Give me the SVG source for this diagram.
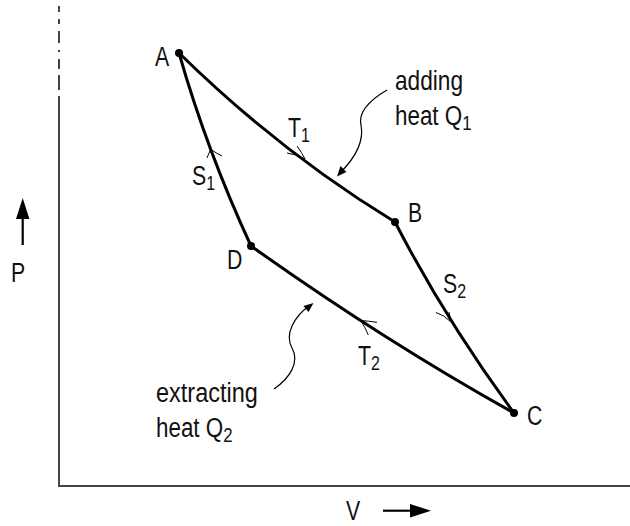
<svg xmlns="http://www.w3.org/2000/svg" width="630" height="526" viewBox="0 0 630 526">
<style>
.t{font-family:"Liberation Sans",Arial,sans-serif;font-size:28px;fill:#111}
.s{font-size:21px}
.axis{stroke:#444;stroke-width:2;fill:none}
.curve{stroke:#000;stroke-width:3;fill:none}
.barb{stroke:#000;stroke-width:1;fill:none}
.lead{stroke:#000;stroke-width:1.2;fill:none}
</style>
<rect width="630" height="526" fill="#fff"/>
<g id="axes">
<path class="axis" d="M59,6V12M59,19V24M59,31V43M59,50V52M59,59V69M59,75V90M59,96V486H630"/>
<path d="M22.7,245V215" stroke="#000" stroke-width="2.2"/>
<polygon points="22.7,198 16,219 29.4,219" fill="#000"/>
<text class="t" transform="translate(11,282) scale(0.76,1)">P</text>
<path d="M383,510.7H412" stroke="#000" stroke-width="2.2"/>
<polygon points="431,510.7 410,504 410,517.4" fill="#000"/>
<text class="t" transform="translate(346,520) scale(0.76,1)">V</text>
</g>
<g id="connectors">
<path id="T1" class="curve" d="M179,53 Q280,152 395,222"/>
<path id="S2" class="curve" d="M395,222 Q445,319 514,413"/>
<path id="T2" class="curve" d="M514,413 Q383,340 251,246"/>
<path id="S1" class="curve" d="M251,246 Q207,151 179,53"/>
<path class="barb" d="M297,146 Q302,153 305,159 Q296,154 287,153"/>
<path class="barb" d="M207,158 Q209,153 210.7,149.3 Q216,153 222,156"/>
<path class="barb" d="M449,312 Q450,317 450.7,321.7 Q444,315 436,312.5"/>
<path class="barb" d="M377,322.3 Q368,321 360.7,320.5 Q365,327 368.3,335"/>
<path class="lead" d="M387,90 C370,100 358,112 361,125 C364,140 358,155 340,173"/>
<polygon points="337,176.5 340.5,166 346.5,172" fill="#000"/>
<path class="lead" d="M274,389 C290,378 300,362 292,348 C284,334 295,316 309,306"/>
<polygon points="313.5,303 303.5,306 308.5,312" fill="#000"/>
</g>
<g id="A"><circle cx="179" cy="53" r="4"/><text class="t" transform="translate(155,66) scale(0.76,1)">A</text></g>
<g id="B"><circle cx="395" cy="222" r="4"/><text class="t" transform="translate(408,222) scale(0.76,1)">B</text></g>
<g id="C"><circle cx="514" cy="413" r="4"/><text class="t" transform="translate(527,425) scale(0.76,1)">C</text></g>
<g id="D"><circle cx="251" cy="246" r="4"/><text class="t" transform="translate(227,269) scale(0.76,1)">D</text></g>
<g id="labels">
<text class="t" transform="translate(288,137) scale(0.76,1)">T<tspan class="s" dy="5">1</tspan></text>
<text class="t" transform="translate(192,185) scale(0.76,1)">S<tspan class="s" dy="5">1</tspan></text>
<text class="t" transform="translate(443,293) scale(0.76,1)">S<tspan class="s" dy="5">2</tspan></text>
<text class="t" transform="translate(358,365) scale(0.76,1)">T<tspan class="s" dy="5">2</tspan></text>
<text class="t" transform="translate(395,90) scale(0.81,1)">adding</text>
<text class="t" transform="translate(395,125) scale(0.8,1)">heat Q<tspan class="s" dy="5">1</tspan></text>
<text class="t" transform="translate(156,402) scale(0.84,1)">extracting</text>
<text class="t" transform="translate(156,437) scale(0.8,1)">heat Q<tspan class="s" dy="5">2</tspan></text>
</g>
</svg>
